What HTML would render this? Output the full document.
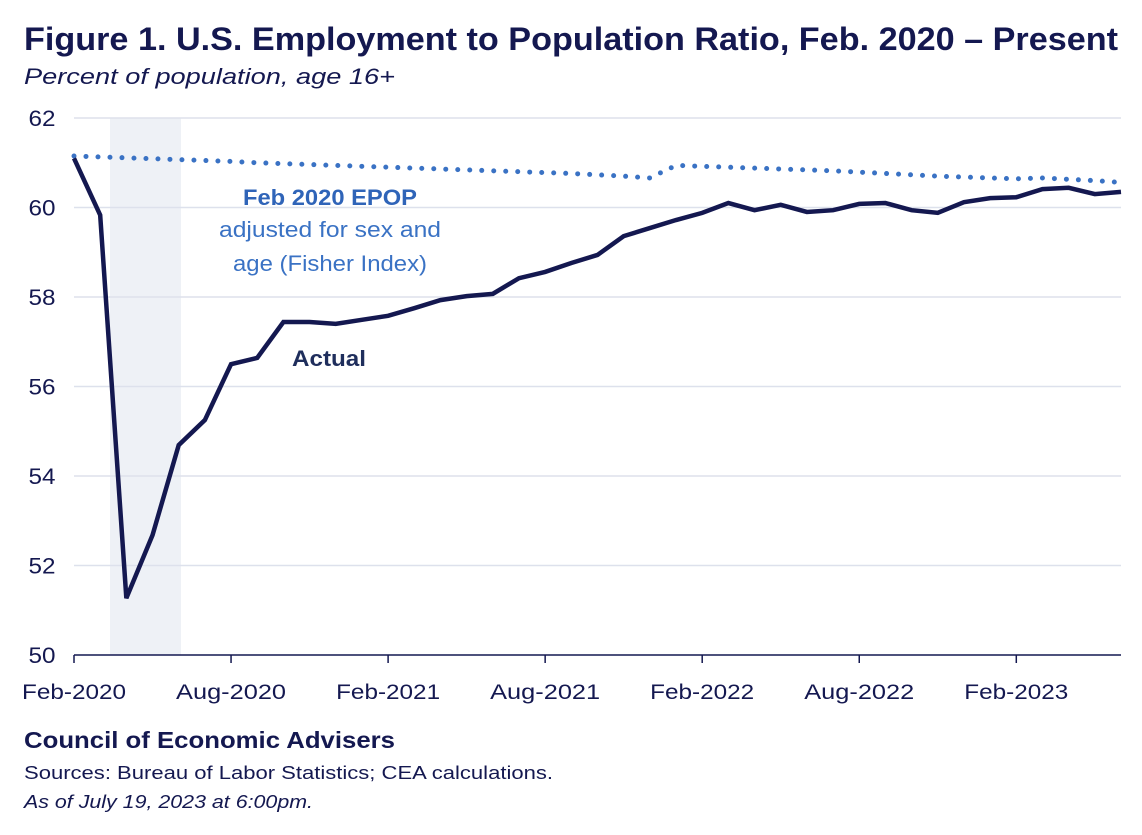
<!DOCTYPE html>
<html><head><meta charset="utf-8"><style>
body{margin:0;background:#fff;width:1142px;height:830px;overflow:hidden;font-family:"Liberation Sans","DejaVu Sans",sans-serif}
svg text{font-family:"Liberation Sans","DejaVu Sans",sans-serif}
</style></head><body>
<svg id="chart" width="1142" height="830" viewBox="0 0 1142 830" xmlns="http://www.w3.org/2000/svg">
<text x="24" y="50" font-size="32" font-weight="bold" fill="#141850" textLength="1094" lengthAdjust="spacingAndGlyphs">Figure 1. U.S. Employment to Population Ratio, Feb. 2020 – Present</text>
<text x="24" y="84" font-size="22" font-style="italic" fill="#141850" textLength="371" lengthAdjust="spacingAndGlyphs">Percent of population, age 16+</text>
<rect x="110" y="118" width="71" height="537" fill="#eef1f6"/>
<g id="grid"></g><g id="axes"></g><g id="series"></g>
<text x="330" y="205" font-size="22" font-weight="bold" fill="#2f64b8" text-anchor="middle" textLength="174" lengthAdjust="spacingAndGlyphs">Feb 2020 EPOP</text>
<text x="330" y="237" font-size="22" fill="#3a72c4" text-anchor="middle" textLength="222" lengthAdjust="spacingAndGlyphs">adjusted for sex and</text>
<text x="330" y="271" font-size="22" fill="#3a72c4" text-anchor="middle" textLength="194" lengthAdjust="spacingAndGlyphs">age (Fisher Index)</text>
<text x="329" y="366" font-size="22" font-weight="bold" fill="#1f2e5c" text-anchor="middle" textLength="74" lengthAdjust="spacingAndGlyphs">Actual</text>
<text x="24" y="748" font-size="23" font-weight="bold" fill="#141850" textLength="371" lengthAdjust="spacingAndGlyphs">Council of Economic Advisers</text>
<text x="24" y="779" font-size="18" fill="#141850" textLength="529" lengthAdjust="spacingAndGlyphs">Sources: Bureau of Labor Statistics; CEA calculations.</text>
<text x="24" y="808" font-size="18" font-style="italic" fill="#141850" textLength="289" lengthAdjust="spacingAndGlyphs">As of July 19, 2023 at 6:00pm.</text>
</svg>
<script>
const actual=[61.1,59.83,51.27,52.68,54.69,55.25,56.5,56.64,57.44,57.44,57.4,57.49,57.58,57.75,57.93,58.02,58.07,58.42,58.56,58.76,58.94,59.36,59.54,59.72,59.88,60.1,59.94,60.06,59.9,59.94,60.08,60.1,59.94,59.88,60.12,60.21,60.23,60.41,60.44,60.3,60.35];
const adjusted=[61.15,61.13,61.11,61.09,61.07,61.05,61.03,61.0,60.98,60.96,60.94,60.92,60.9,60.88,60.86,60.84,60.82,60.8,60.78,60.76,60.73,60.7,60.66,60.94,60.92,60.9,60.88,60.86,60.84,60.82,60.79,60.76,60.73,60.7,60.68,60.66,60.64,60.66,60.63,60.6,60.56];
const yTicks=[50,52,54,56,58,60,62];
const xTickLabels=["Feb-2020","Aug-2020","Feb-2021","Aug-2021","Feb-2022","Aug-2022","Feb-2023"];
const xTickIdx=[0,6,12,18,24,30,36];
const NS="http://www.w3.org/2000/svg";
const L=74,R=1121,T=118,B=655,n=actual.length;
const x=i=>L+i*(R-L)/(n-1);
const y=v=>B-(v-50)*(B-T)/12;
function mk(tag,attrs,parent){const e=document.createElementNS(NS,tag);for(const k in attrs)e.setAttribute(k,attrs[k]);document.getElementById(parent).appendChild(e);return e;}
yTicks.forEach(t=>{
 if(t>50){const g=mk('line',{x1:L,x2:R,y1:y(t),y2:y(t),stroke:'#dde1ec','stroke-width':1.5},'grid');
 
 }
 const tx=mk('text',{x:42,y:y(t)+8,'font-size':22,fill:'#141850','text-anchor':'middle',textLength:27,lengthAdjust:'spacingAndGlyphs'},'axes');tx.textContent=t;
 
 
});
const ax=mk('line',{x1:L,x2:R,y1:B,y2:B,stroke:'#141850','stroke-width':1.5},'axes');


xTickIdx.forEach((idx,k)=>{
 const tk=mk('line',{x1:x(idx),x2:x(idx),y1:B,y2:B+8,stroke:'#141850','stroke-width':1.5},'axes');
 
 
 const tx=mk('text',{x:x(idx),y:699,'font-size':21,fill:'#141850','text-anchor':'middle',textLength:xTickLabels[k].startsWith('Aug')?110:104,lengthAdjust:'spacingAndGlyphs'},'axes');tx.textContent=xTickLabels[k];
 
 
});
const adj=mk('polyline',{points:adjusted.map((v,i)=>x(i)+','+y(v)).join(' '),fill:'none',stroke:'#3a72c4','stroke-width':5,'stroke-linecap':'round','stroke-dasharray':'0 12'},'series');


const act=mk('polyline',{points:actual.map((v,i)=>x(i)+','+y(v)).join(' '),fill:'none',stroke:'#141850','stroke-width':4.5,'stroke-linejoin':'miter'},'series');


</script>
</body></html>
